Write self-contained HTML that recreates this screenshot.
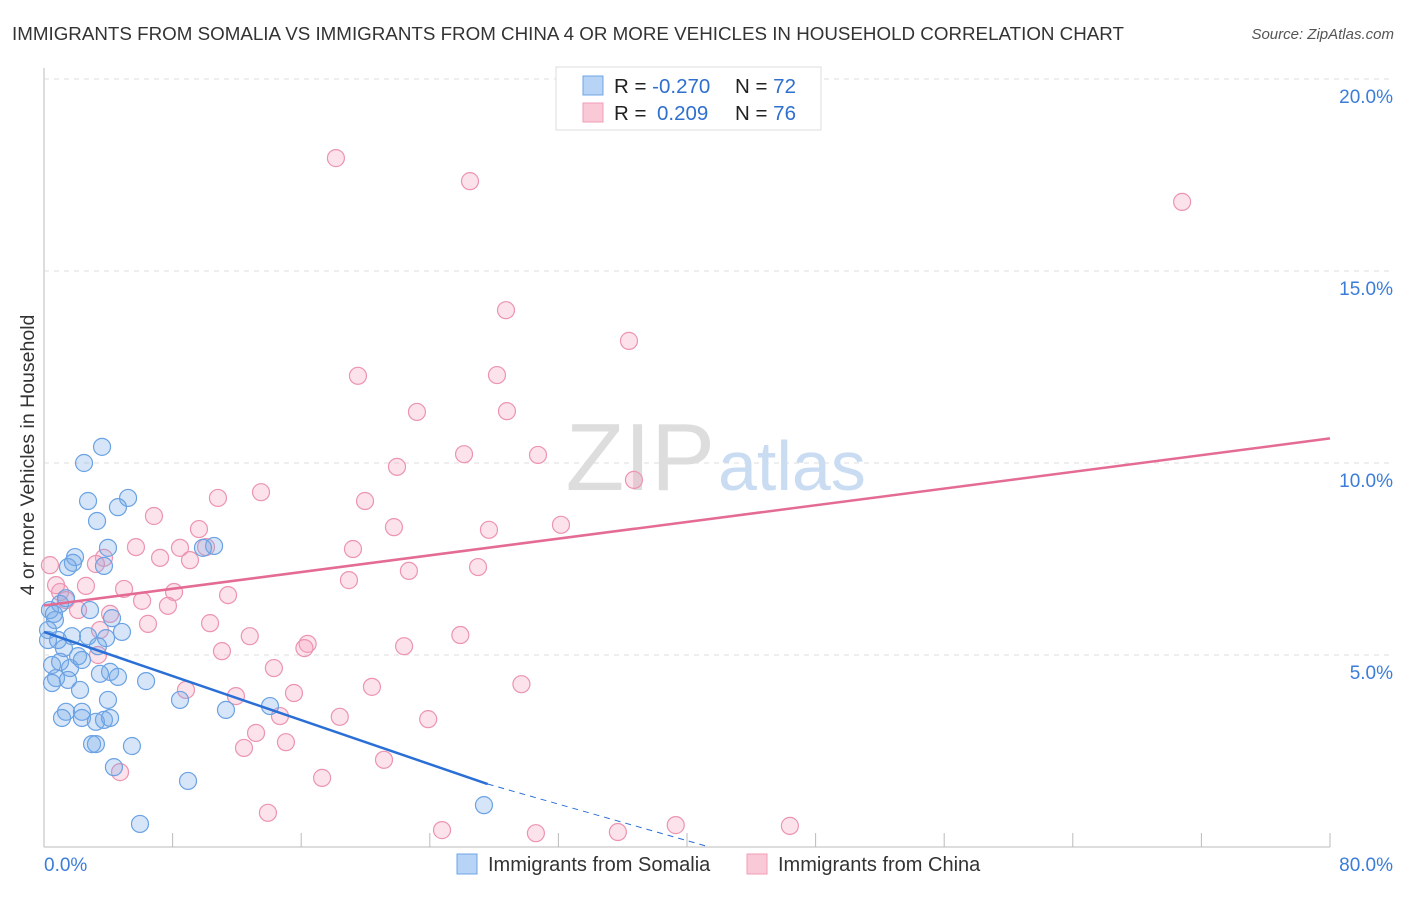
<!DOCTYPE html>
<html><head><meta charset="utf-8"><style>
body{margin:0;background:#fff;font-family:"Liberation Sans",sans-serif;}
svg text{font-family:"Liberation Sans",sans-serif;}
</style></head><body>
<svg id="c" width="1406" height="892">
<text x="12" y="40" font-size="18" fill="#333" textLength="1112" lengthAdjust="spacingAndGlyphs">IMMIGRANTS FROM SOMALIA VS IMMIGRANTS FROM CHINA 4 OR MORE VEHICLES IN HOUSEHOLD CORRELATION CHART</text>
<text x="1394" y="39" font-size="15" fill="#555" font-style="italic" text-anchor="end">Source: ZipAtlas.com</text>
<g id="grid"></g>
<text x="715" y="490" font-size="96" font-family="Liberation Serif" fill="#ddd" text-anchor="end">ZIP</text>
<text x="718" y="490" font-size="70" fill="#c9dcf2">atlas</text>
<g id="pts"></g>
<g id="lines"></g>
<text transform="translate(34,455) rotate(-90)" font-size="19.5" fill="#333" text-anchor="middle">4 or more Vehicles in Household</text>
<g>
<rect x="556" y="67" width="265" height="63" fill="#fff" stroke="#ddd"/>
<rect x="583" y="76" width="20" height="19" fill="#b7d3f5" stroke="#6fa5e5"/>
<rect x="583" y="103" width="20" height="19" fill="#f9c9d7" stroke="#ef9db6"/>
<text x="614" y="93" font-size="20.5" fill="#222">R = <tspan fill="#2f6fd0">-0.270</tspan><tspan x="735">N = </tspan><tspan fill="#2f6fd0">72</tspan></text>
<text x="614" y="120" font-size="20.5" fill="#222">R = <tspan x="657" fill="#2f6fd0">0.209</tspan><tspan x="735">N = </tspan><tspan fill="#2f6fd0">76</tspan></text>
</g>
<g>
<rect x="457" y="854" width="20" height="20" fill="#b7d3f5" stroke="#6fa5e5"/>
<text x="488" y="871" font-size="20" fill="#333">Immigrants from Somalia</text>
<rect x="747" y="854" width="20" height="20" fill="#f9c9d7" stroke="#ef9db6"/>
<text x="778" y="871" font-size="20" fill="#333">Immigrants from China</text>
</g>
</svg>
<script>
const blueX=[3.61,2.49,2.74,5.23,4.60,3.30,1.93,1.80,3.98,3.73,1.49,10.58,9.89,2.86,4.23,0.37,0.68,0.25,1.0,1.37,1.74,2.74,3.86,4.85,1.24,2.12,3.36,0.5,1.0,1.62,2.36,4.11,3.48,4.6,0.75,1.49,0.5,2.24,3.98,6.35,8.46,11.32,14.06,1.37,2.36,1.12,2.36,3.23,3.73,4.11,2.99,3.23,5.47,4.35,8.96,27.37,5.97,0.25,0.62,0.87];
const blueY=[10.42,10.0,9.01,9.09,8.85,8.49,7.55,7.40,7.79,7.32,7.29,7.84,7.79,6.17,5.96,6.17,5.91,5.65,6.33,6.48,5.49,5.49,5.44,5.60,5.18,4.97,5.23,4.74,4.82,4.66,4.87,4.56,4.51,4.43,4.40,4.35,4.27,4.09,3.83,4.32,3.83,3.57,3.67,3.52,3.52,3.36,3.36,3.26,3.31,3.36,2.68,2.68,2.63,2.08,1.72,1.09,0.60,5.39,6.07,5.39];
const pinkX=[18.16,26.5,70.8,28.74,36.39,19.53,28.18,23.2,28.8,21.96,26.13,30.73,36.7,13.5,10.82,19.97,6.84,9.64,21.77,27.68,32.16,5.72,8.46,10.08,19.22,3.73,7.22,9.08,3.23,27.0,22.7,18.97,4.98,8.09,11.45,1.0,2.61,1.37,6.1,7.71,2.12,4.11,6.47,10.33,3.48,12.8,25.9,16.4,16.2,22.4,11.07,3.36,14.3,20.4,29.7,8.83,11.94,15.55,14.68,18.4,23.9,13.19,15.05,12.44,21.15,4.73,17.3,13.93,24.76,30.6,35.7,39.3,46.4,0.37,0.75];
const pinkY=[17.94,17.34,16.8,13.98,13.18,12.27,12.29,11.33,11.35,9.9,10.23,10.21,9.56,9.24,9.09,9.01,8.62,8.28,8.33,8.26,8.39,7.81,7.79,7.81,7.76,7.53,7.53,7.47,7.37,7.29,7.19,6.95,6.72,6.64,6.56,6.64,6.80,6.43,6.41,6.28,6.17,6.07,5.81,5.83,5.65,5.49,5.52,5.29,5.18,5.23,5.10,5.0,4.66,4.17,4.24,4.09,3.93,4.01,3.41,3.39,3.33,2.97,2.73,2.58,2.27,1.95,1.80,0.89,0.44,0.36,0.39,0.57,0.55,7.34,6.82];
const yTicks=[5,10,15,20];
const yTickLabels=["5.0%","10.0%","15.0%","20.0%"];
const xTickLabels=["0.0%","80.0%"];
const blueLine=[5.6,27.6,1.64,41.4,0];
const pinkLine=[6.29,10.64];
const sx=v=>44+v*16.075, sy=v=>847-v*38.4;
const NS="http://www.w3.org/2000/svg";
function mk(t,a,p){const e=document.createElementNS(NS,t);for(const k in a)e.setAttribute(k,a[k]);p.appendChild(e);return e;}
const g=document.getElementById('grid');
const ax=mk('line',{x1:44,y1:68,x2:44,y2:847,stroke:'#bbb'},g);


const bx=mk('line',{x1:44,y1:847,x2:1330,y2:847,stroke:'#bbb'},g);


for(let i=1;i<=10;i++){const t=mk('line',{x1:44+i*128.6,y1:833,x2:44+i*128.6,y2:847,stroke:'#bbb'},g);

}
yTicks.forEach((v,i)=>{const l=mk('line',{x1:44,y1:sy(v),x2:1394,y2:sy(v),stroke:'#ddd','stroke-dasharray':'5,5'},g);


const t=mk('text',{x:1393,y:sy(v)+24,'font-size':19,fill:'#3b7dd8','text-anchor':'end'},g);t.textContent=yTickLabels[i];

});
xTickLabels.forEach((s,i)=>{const t=mk('text',{x:i?1393:44,y:871,'font-size':19,fill:'#3b7dd8','text-anchor':i?'end':'start'},g);t.textContent=s;

});
const P=document.getElementById('pts');
pinkX.forEach((x,i)=>{const c=mk('circle',{cx:sx(x),cy:sy(pinkY[i]),r:8.5,fill:'rgba(244,160,188,0.3)',stroke:'#ec94b0','stroke-width':1.2},P);

});
blueX.forEach((x,i)=>{const c=mk('circle',{cx:sx(x),cy:sy(blueY[i]),r:8.5,fill:'rgba(120,170,232,0.3)',stroke:'#6aa2e3','stroke-width':1.2},P);

});
const L=document.getElementById('lines');
const b1=mk('line',{x1:sx(0),y1:sy(blueLine[0]),x2:sx(blueLine[1]),y2:sy(blueLine[2]),stroke:'#2a6fd6','stroke-width':2.5},L);


const b2=mk('line',{x1:sx(blueLine[1]),y1:sy(blueLine[2]),x2:sx(blueLine[3]),y2:sy(blueLine[4]),stroke:'#2a6fd6','stroke-width':1,'stroke-dasharray':'6,5'},L);


const p1=mk('line',{x1:sx(0),y1:sy(pinkLine[0]),x2:sx(80),y2:sy(pinkLine[1]),stroke:'#e46b94','stroke-width':2.5},L);


</script>
</body></html>
